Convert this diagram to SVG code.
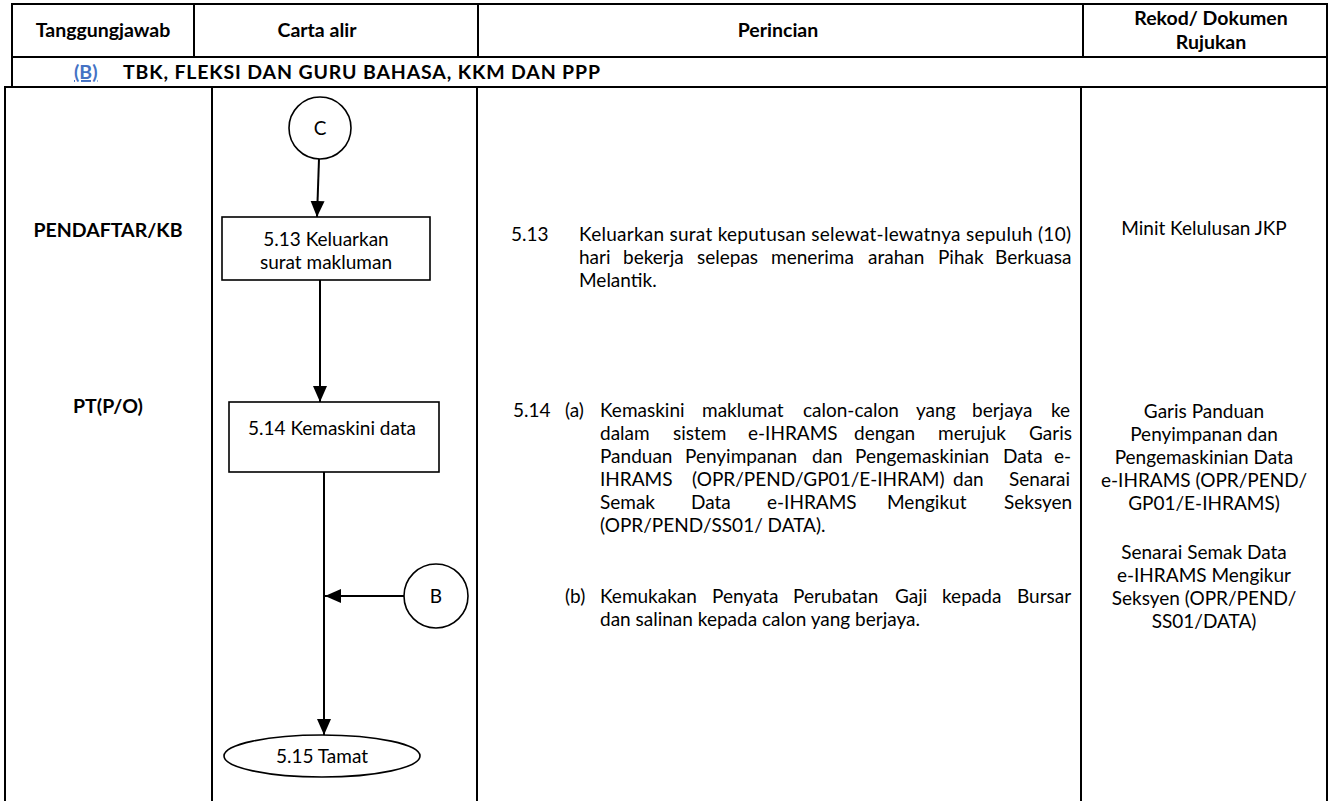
<svg xmlns="http://www.w3.org/2000/svg" width="1333" height="801" viewBox="0 0 1333 801">
<style>
.grid{stroke:#000;stroke-width:2;fill:none}
.shape{stroke:#000;stroke-width:1.6;fill:#fff}
.conn{stroke:#000;stroke-width:2;fill:none}
.hd{font-family:Lato,"Liberation Sans",sans-serif;font-weight:bold;font-size:19.5px;fill:#000}
.tx{font-family:Lato,"Liberation Sans",sans-serif;font-size:19px;fill:#000}
.c{text-anchor:middle}
.lnk{fill:#4472C4;text-decoration:underline}
</style>
<defs>
<marker id="ah" markerUnits="userSpaceOnUse" markerWidth="16" markerHeight="16" viewBox="0 0 16 16" refX="16" refY="8" orient="auto">
<path d="M0,1 L16,8 L0,15 Z" fill="#000"/>
</marker>
</defs>
<rect width="1333" height="801" fill="#fff"/>
<g id="table">
<rect class="grid" x="12" y="4" width="1315" height="83"/>
<line class="grid" x1="12" y1="57" x2="1327" y2="57"/>
<line class="grid" x1="194" y1="4" x2="194" y2="57"/>
<line class="grid" x1="478" y1="4" x2="478" y2="57"/>
<line class="grid" x1="1083" y1="4" x2="1083" y2="57"/>
<line class="grid" x1="5" y1="87" x2="1327" y2="87"/>
<line class="grid" x1="5" y1="86" x2="5" y2="801"/>
<line class="grid" x1="212" y1="87" x2="212" y2="801"/>
<line class="grid" x1="477" y1="87" x2="477" y2="801"/>
<line class="grid" x1="1081" y1="87" x2="1081" y2="801"/>
<line class="grid" x1="1327" y1="86" x2="1327" y2="801"/>
</g>
<g id="header">
<text class="hd c" x="103" y="37">Tanggungjawab</text>
<text class="hd c" x="317" y="37">Carta alir</text>
<text class="hd c" x="778" y="37">Perincian</text>
<text class="hd c" x="1211" y="25">Rekod/ Dokumen</text>
<text class="hd c" x="1211" y="49">Rujukan</text>
<text class="hd lnk" x="74" y="79">(B)</text>
<text class="hd" x="123" y="79" textLength="477" lengthAdjust="spacing">TBK, FLEKSI DAN GURU BAHASA, KKM DAN PPP</text>
</g>
<g id="roles">
<text class="hd c" x="108" y="237">PENDAFTAR/KB</text>
<text class="hd c" x="108" y="413">PT(P/O)</text>
</g>
<g id="connectors">
<line class="conn" x1="319" y1="159" x2="317" y2="217" marker-end="url(#ah)"/>
<line class="conn" x1="320" y1="280" x2="320" y2="402" marker-end="url(#ah)"/>
<line class="conn" x1="324" y1="472" x2="324" y2="735" marker-end="url(#ah)"/>
<line class="conn" x1="404" y1="596" x2="325" y2="596" marker-end="url(#ah)"/>
</g>
<g id="node-C">
<circle class="shape" cx="320" cy="128" r="31"/>
<text class="tx c" x="320" y="135">C</text>
</g>
<g id="node-5-13">
<rect class="shape" x="222" y="217" width="208" height="63"/>
<text class="tx c" x="326" y="246">5.13 Keluarkan</text>
<text class="tx c" x="326" y="269">surat makluman</text>
</g>
<g id="node-5-14">
<rect class="shape" x="229" y="402" width="210" height="70"/>
<text class="tx c" x="332" y="435">5.14 Kemaskini data</text>
</g>
<g id="node-B">
<circle class="shape" cx="436" cy="596" r="32"/>
<text class="tx c" x="436" y="603">B</text>
</g>
<g id="node-5-15">
<ellipse class="shape" cx="322" cy="756" rx="98" ry="21"/>
<text class="tx c" x="322" y="763">5.15 Tamat</text>
</g>
<g id="perincian">
<text class="tx" x="511" y="241">5.13</text>
<text class="tx" x="579" y="241" textLength="492" lengthAdjust="spacing">Keluarkan surat keputusan selewat-lewatnya sepuluh (10)</text>
<text class="tx" y="264"><tspan x="579">hari</tspan><tspan x="623">bekerja</tspan><tspan x="697">selepas</tspan><tspan x="771">menerima</tspan><tspan x="868">arahan</tspan><tspan x="938">Pihak</tspan><tspan x="995">Berkuasa</tspan></text>
<text class="tx" x="579" y="287">Melantik.</text>
<text class="tx" x="513" y="417">5.14</text>
<text class="tx" x="565" y="417">(a)</text>
<text class="tx" y="417"><tspan x="600">Kemaskini</tspan><tspan x="702">maklumat</tspan><tspan x="803">calon-calon</tspan><tspan x="916">yang</tspan><tspan x="972">berjaya</tspan><tspan x="1051">ke</tspan></text>
<text class="tx" y="440"><tspan x="600">dalam</tspan><tspan x="673">sistem</tspan><tspan x="748">e-IHRAMS</tspan><tspan x="854">dengan</tspan><tspan x="938">merujuk</tspan><tspan x="1029">Garis</tspan></text>
<text class="tx" y="463"><tspan x="600">Panduan</tspan><tspan x="685">Penyimpanan</tspan><tspan x="812">dan</tspan><tspan x="855">Pengemaskinian</tspan><tspan x="1003">Data</tspan><tspan x="1054">e-</tspan></text>
<text class="tx" y="486"><tspan x="600">IHRAMS</tspan><tspan x="692">(OPR/PEND/GP01/E-IHRAM)</tspan><tspan x="953">dan</tspan><tspan x="1009">Senarai</tspan></text>
<text class="tx" y="509"><tspan x="600">Semak</tspan><tspan x="691">Data</tspan><tspan x="767">e-IHRAMS</tspan><tspan x="887">Mengikut</tspan><tspan x="1004">Seksyen</tspan></text>
<text class="tx" x="600" y="532">(OPR/PEND/SS01/ DATA).</text>
<text class="tx" x="565" y="603">(b)</text>
<text class="tx" y="603"><tspan x="600">Kemukakan</tspan><tspan x="712">Penyata</tspan><tspan x="793">Perubatan</tspan><tspan x="895">Gaji</tspan><tspan x="942">kepada</tspan><tspan x="1017">Bursar</tspan></text>
<text class="tx" x="600" y="626">dan salinan kepada calon yang berjaya.</text>
</g>
<g id="rekod">
<text class="tx c" x="1204" y="235">Minit Kelulusan JKP</text>
<text class="tx c" x="1204" y="418">Garis Panduan</text>
<text class="tx c" x="1204" y="441">Penyimpanan dan</text>
<text class="tx c" x="1204" y="464">Pengemaskinian Data</text>
<text class="tx c" x="1204" y="487">e-IHRAMS (OPR/PEND/</text>
<text class="tx c" x="1204" y="510">GP01/E-IHRAMS)</text>
<text class="tx c" x="1204" y="559">Senarai Semak Data</text>
<text class="tx c" x="1204" y="582">e-IHRAMS Mengikur</text>
<text class="tx c" x="1204" y="605">Seksyen (OPR/PEND/</text>
<text class="tx c" x="1204" y="628">SS01/DATA)</text>
</g>
</svg>
